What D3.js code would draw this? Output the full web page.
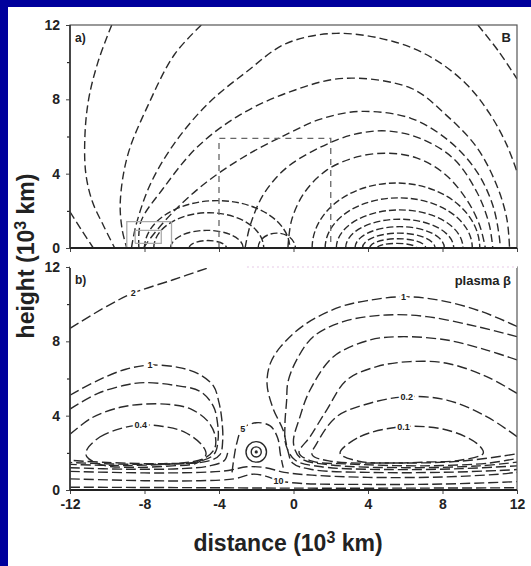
<!DOCTYPE html>
<head>
<meta charset="utf-8">
<script src="https://d3js.org/d3.v7.min.js"></script>
<style>
  body { margin: 0; }
  text { font-family: "Liberation Sans", Arial, sans-serif; font-weight: bold; fill: #222; }
</style>
</head>
<body>
<div id="my_dataviz"></div>
<script>

// ---- axes (10^3 km) ----
var xTicks = [-12, -8, -4, 0, 4, 8, 12];
var yTicks = [0, 4, 8, 12];
var yMinor = [2, 6, 10];

// ---- panel a: magnetic field lines, [distance, height] ----
var fieldL1 = [[-12, 1.95], [-11.4, 1.0], [-10.75, 0]];
var fieldL2 = [[-9.76, 12], [-10.5, 10], [-11.0, 8], [-11.2, 6], [-11.15, 4], [-10.8, 2.5], [-10.2, 1.2], [-9.6, 0]];
var fieldL3 = [[-4.95, 12], [-6.4, 10.4], [-7.8, 7.7], [-8.9, 5.0], [-9.3, 2.5], [-9.2, 1.0], [-8.95, 0]];
var fieldT1 = [[-8.7, 0], [-8.45, 1.25], [-7.7, 3.4], [-6.45, 5.55], [-4.66, 7.7], [-2.5, 9.5], [-0.4, 11.0], [2.3, 11.55], [5.4, 11.1], [7.5, 10.2], [9.3, 8.8], [10.55, 7.2], [11.45, 5.55], [12, 4.1]];
var fieldT2 = [[-8.3, 0], [-8.2, 1.4], [-7.0, 3.2], [-5.2, 5.4], [-2.9, 7.15], [-0.2, 8.4], [2.7, 9.13], [6.3, 8.6], [8.2, 7.15], [9.85, 5.4], [10.9, 3.4], [11.45, 1.6], [11.6, 0]];
var fieldT3 = [[-8.05, 0], [-7.7, 0.5], [-6.45, 1.95], [-4.66, 3.55], [-2.5, 5.0], [-0.2, 6.2], [1.5, 6.95], [3.6, 7.35], [6.3, 6.98], [8.4, 5.72], [9.85, 4.1], [10.7, 2.3], [11.05, 0.6], [11.1, 0]];
var fieldD = [[-2.6, 0], [-2.3, 1.3], [-1.6, 2.9], [-0.4, 4.3], [1.4, 5.4], [3.2, 6.1], [5.0, 6.3], [6.8, 5.9], [8.6, 4.8], [9.85, 3.0], [10.5, 1.3], [10.7, 0]];
var fieldE = [[-0.3, 0], [-0.1, 1.5], [0.6, 3.0], [1.8, 4.2], [3.4, 4.9], [5.0, 5.1], [6.6, 4.85], [8.1, 4.0], [9.3, 2.6], [10.0, 1.2], [10.3, 0]];
var fieldCorner = [[9.9, 12], [11.0, 10.6], [12, 9.1]];
// loops above the right source: [left foot, right foot, top]
var loopsRight = [[1.0, 10.0, 3.5], [1.7, 9.6, 2.7], [2.3, 9.1, 2.05], [2.8, 8.6, 1.55], [3.3, 8.1, 1.15], [3.7, 7.6, 0.8], [4.1, 7.1, 0.5], [4.5, 6.6, 0.25]];
// loops of the small bipole on the left
var loopsLeft = [[-8.0, -0.2, 2.55], [-7.5, -1.6, 1.9], [-6.6, -2.7, 0.95], [-5.6, -3.6, 0.4], [-1.9, 0.1, 0.8]];
var dashedBox = [[-4, 0], [-4, 5.9], [2, 5.9], [2, 0]];
var grayBoxOuter = [[-8.95, 0], [-8.95, 1.42], [-6.55, 1.42], [-6.55, 0]];
var grayBoxInner = [[-8.5, 0.25], [-8.5, 0.95], [-7.1, 0.95], [-7.1, 0.25], [-8.5, 0.25]];

// ---- panel b: plasma beta contours ----
var betaTwo = [[-12, 8.7], [-10, 9.9], [-8.6, 10.6], [-6.5, 11.3], [-4.6, 11.95]];
var betaLeft1 = [[-12, 5.1], [-10.5, 5.9], [-9, 6.5], [-7.7, 6.72], [-6.2, 6.6], [-5.1, 6.25], [-4.3, 5.6], [-4.0, 4.7], [-3.85, 3.8], [-3.8, 2.7], [-3.95, 1.9], [-4.6, 1.55], [-7, 1.42], [-10, 1.48], [-12, 1.6]];
var betaLeft2 = [[-12, 4.35], [-10.5, 5.2], [-9, 5.65], [-8, 5.78], [-6.5, 5.65], [-5.0, 5.3], [-4.3, 4.5], [-4.08, 3.6], [-4.05, 2.7], [-4.25, 1.95], [-5, 1.55], [-8, 1.38], [-12, 1.48]];
var betaLeft3 = [[-12, 3.0], [-10.8, 3.9], [-9.3, 4.45], [-8, 4.62], [-6.6, 4.6], [-5.5, 4.35], [-4.6, 3.7], [-4.2, 2.9], [-4.25, 2.2], [-4.8, 1.7], [-6, 1.45], [-9, 1.32], [-12, 1.38]];
var betaLeft04 = [[-11.1, 2.15], [-10.4, 2.85], [-9.3, 3.3], [-8.2, 3.5], [-7, 3.42], [-5.9, 3.14], [-4.9, 2.4], [-4.7, 1.9], [-5.2, 1.45], [-6.5, 1.3], [-8.5, 1.22], [-10.3, 1.35], [-11.1, 1.8]];
var betaLeftBand = [[-12, 1.2], [-9, 1.12], [-6, 1.15], [-4.5, 1.3], [-3.7, 1.6], [-3.5, 2.2]];
var betaFive = [[-3.3, 0.95], [-3.2, 1.7], [-3.05, 2.5], [-2.75, 3.3], [-2.0, 3.62], [-1.25, 3.45], [-0.85, 2.8], [-0.7, 1.9], [-0.55, 1.2]];
var betaCenter = [-2.0, 2.05];
var betaRings = [0.55, 0.27];
var betaRight1 = [[12, 8.8], [10.1, 9.6], [7.9, 10.2], [5.9, 10.4], [4.0, 10.2], [2.5, 9.85], [0.6, 8.9], [-0.7, 7.7], [-1.25, 6.8], [-1.42, 5.7], [-1.1, 4.4], [-0.55, 3.2], [-0.3, 2.1], [-0.05, 1.45], [1, 1.1], [4, 0.95], [8, 0.95], [11, 1.05], [12, 1.1]];
var betaRight2 = [[12, 8.25], [9.84, 8.8], [7.15, 9.33], [5.0, 9.42], [2.67, 9.06], [1.06, 8.25], [0.17, 7.0], [-0.3, 5.8], [-0.37, 4.8], [-0.46, 3.5], [-0.4, 2.4], [0.1, 1.6], [1.5, 1.25], [5, 1.1], [9, 1.15], [12, 1.3]];
var betaRight3 = [[12, 7.0], [10.37, 7.53], [8.23, 8.07], [5.72, 8.25], [4.1, 8.07], [2.14, 7.17], [0.89, 5.38], [0.35, 3.95], [0, 2.51], [0.4, 1.7], [2, 1.35], [6, 1.2], [10, 1.3], [12, 1.5]];
var betaRight4 = [[12, 5.2], [10.37, 6.1], [8.23, 6.82], [6.26, 6.91], [4.47, 6.64], [2.86, 5.92], [1.78, 4.3], [0.89, 2.87], [0.3, 2.0], [1.0, 1.55], [3, 1.4], [7, 1.3], [10.5, 1.45], [12, 1.7]];
var betaRight02 = [[12, 2.87], [10.37, 3.95], [8.23, 4.84], [6.08, 5.02], [4.1, 4.67], [2.32, 3.95], [1.25, 2.51], [1.0, 1.9], [2.0, 1.55], [5, 1.45], [9, 1.55], [12, 1.95]];
var betaRight01 = [[2.5, 1.98], [3.57, 2.87], [5.9, 3.41], [8.23, 3.23], [9.84, 2.51], [10.19, 1.98], [8.94, 1.6], [7, 1.5], [5.36, 1.45], [3.5, 1.55]];
var betaLow1 = [[-12, 1.0], [-8, 0.92], [-5, 0.95], [-3.5, 1.05], [-2.5, 1.25], [-1.5, 1.2], [-0.5, 0.95], [1, 0.8], [4, 0.68], [8, 0.7], [11, 0.85], [12, 0.95]];
var betaLow10 = [[-12, 0.6], [-8, 0.5], [-5, 0.5], [-3.2, 0.6], [-2.2, 0.85], [-1.5, 0.75], [-0.8, 0.5], [0.5, 0.35], [4, 0.3], [8, 0.32], [12, 0.45]];
var betaLow3 = [[-12, 0.15], [-4, 0.12], [0, 0.1], [6, 0.1], [12, 0.12]];
var betaLabels = [["2", -8.6, 10.62], ["1", -7.7, 6.72], ["0.4", -8.2, 3.5], ["5", -2.72, 3.3], ["10", -0.8, 0.5], ["1", 5.9, 10.4], ["0.2", 6.08, 5.02], ["0.1", 5.9, 3.41]];

// ---- layout ----
var W = 531, H = 566;
var x = d3.scaleLinear().domain([-12, 12]).range([70, 517]);
var yA = d3.scaleLinear().domain([0, 12]).range([248, 25]);
var yB = d3.scaleLinear().domain([0, 12]).range([490, 267]);

var svg = d3.select("#my_dataviz").append("svg")
  .attr("width", W).attr("height", H);

svg.append("rect").attr("width", W).attr("height", H).attr("fill", "#00009c");
svg.append("rect").attr("x", 8).attr("y", 7).attr("width", W - 8).attr("height", H - 7).attr("fill", "#fff");

function panel(id, y) {
  svg.append("clipPath").attr("id", id)
    .append("rect").attr("x", x(-12)).attr("y", y(12))
    .attr("width", x(12) - x(-12)).attr("height", y(0) - y(12));
  return svg.append("g").attr("clip-path", "url(#" + id + ")");
}

function drawLine(g, y, pts, dash, closed) {
  var line = d3.line().x(function(d) { return x(d[0]); }).y(function(d) { return y(d[1]); })
    .curve(closed ? d3.curveCatmullRomClosed.alpha(0.5) : d3.curveCatmullRom.alpha(0.5));
  g.append("path").attr("d", line(pts))
    .attr("fill", "none").attr("stroke", "#2a2a2a").attr("stroke-width", 1.4)
    .attr("stroke-dasharray", dash);
}

function drawLoops(g, y, loops, dash) {
  g.selectAll(null).data(loops).enter().append("path")
    .attr("d", function(d) {
      var rx = (x(d[1]) - x(d[0])) / 2, ry = y(0) - y(d[2]);
      return "M" + x(d[0]) + "," + y(0) + " A" + rx + "," + ry + " 0 0 1 " + x(d[1]) + "," + y(0);
    })
    .attr("fill", "none").attr("stroke", "#2a2a2a").attr("stroke-width", 1.4)
    .attr("stroke-dasharray", dash);
}

function axes(y, labelsX) {
  var gy = svg.append("g").attr("transform", "translate(" + x(-12) + ",0)")
    .call(d3.axisLeft(y).tickValues(yTicks).tickSize(4).tickPadding(6).tickFormat(function(d) { return String(d); }));
  gy.select(".domain").remove();
  gy.selectAll("text").style("font-size", "14px").style("font-family", "Liberation Sans, Arial").style("font-weight", "bold").attr("fill", "#222");
  gy.selectAll("line").attr("stroke", "#444");
  svg.append("g").attr("transform", "translate(" + x(-12) + ",0)")
    .call(d3.axisLeft(y).tickValues(yMinor).tickSize(3).tickFormat(""))
    .select(".domain").remove();

  var gx = svg.append("g").attr("transform", "translate(0," + y(0) + ")")
    .call(d3.axisBottom(x).tickValues(xTicks).tickSize(4).tickPadding(5)
      .tickFormat(labelsX ? function(d) { return String(d); } : ""));
  gx.select(".domain").remove();
  gx.selectAll("text").style("font-size", "14px").style("font-family", "Liberation Sans, Arial").style("font-weight", "bold").attr("fill", "#222");
  gx.selectAll("line").attr("stroke", "#444");

  // frame
  svg.append("rect").attr("x", x(-12)).attr("y", y(12))
    .attr("width", x(12) - x(-12)).attr("height", y(0) - y(12))
    .attr("fill", "none").attr("stroke", "#555").attr("stroke-width", 1.2);
  svg.append("line").attr("x1", x(-12)).attr("x2", x(12)).attr("y1", y(0)).attr("y2", y(0))
    .attr("stroke", "#222").attr("stroke-width", 2.2);
  svg.append("line").attr("x1", x(-12)).attr("x2", x(-12)).attr("y1", y(0)).attr("y2", y(12))
    .attr("stroke", "#333").attr("stroke-width", 1.6);
}

// ---- panel a ----
var gA = panel("clipA", yA);
[fieldL1, fieldL2, fieldL3, fieldT1, fieldT2, fieldT3, fieldD, fieldE, fieldCorner].forEach(function(p) {
  drawLine(gA, yA, p, "8,4", false);
});
drawLoops(gA, yA, loopsRight, "7,3");
drawLoops(gA, yA, loopsLeft, "7,3");
gA.append("path").attr("d", d3.line().x(function(d) { return x(d[0]); }).y(function(d) { return yA(d[1]); })(dashedBox))
  .attr("fill", "none").attr("stroke", "#666").attr("stroke-width", 1.3).attr("stroke-dasharray", "6,5");
[grayBoxOuter, grayBoxInner].forEach(function(b) {
  gA.append("path").attr("d", d3.line().x(function(d) { return x(d[0]); }).y(function(d) { return yA(d[1]); })(b))
    .attr("fill", "none").attr("stroke", "#aaa").attr("stroke-width", 1.3);
});
axes(yA, false);
svg.append("text").attr("x", 75).attr("y", 42).style("font-size", "12px").text("a)");
svg.append("text").attr("x", 511).attr("y", 42).attr("text-anchor", "end").style("font-size", "13px").text("B");

// ---- panel b ----
var gB = panel("clipB", yB);
[betaTwo, betaLeft1, betaLeft2, betaLeft3, betaLeftBand, betaFive,
 betaRight1, betaRight2, betaRight3, betaRight4, betaRight02,
 betaLow1, betaLow10, betaLow3].forEach(function(p) {
  drawLine(gB, yB, p, "10,4", false);
});
[betaLeft04, betaRight01].forEach(function(p) { drawLine(gB, yB, p, "10,4", true); });
gB.selectAll(null).data(betaRings).enter().append("circle")
  .attr("cx", x(betaCenter[0])).attr("cy", yB(betaCenter[1]))
  .attr("r", function(d) { return x(betaCenter[0] + d) - x(betaCenter[0]); })
  .attr("fill", "none").attr("stroke", "#2a2a2a").attr("stroke-width", 1.4);
gB.append("circle").attr("cx", x(betaCenter[0])).attr("cy", yB(betaCenter[1])).attr("r", 1.6).attr("fill", "#2a2a2a");
gB.selectAll(null).data(betaLabels).enter().append("text")
  .attr("x", function(d) { return x(d[1]); }).attr("y", function(d) { return yB(d[2]); })
  .attr("dy", "0.35em").attr("text-anchor", "middle")
  .style("font-size", "9px").style("paint-order", "stroke")
  .attr("stroke", "#fff").attr("stroke-width", 4)
  .text(function(d) { return d[0]; });
axes(yB, true);
// faint top edge of panel b
svg.append("line").attr("x1", x(-12)).attr("x2", x(12)).attr("y1", yB(12)).attr("y2", yB(12))
  .attr("stroke", "#fff").attr("stroke-width", 2);
svg.append("line").attr("x1", x(-2.5)).attr("x2", x(12)).attr("y1", yB(12)).attr("y2", yB(12))
  .attr("stroke", "#e6c8e6").attr("stroke-width", 1).attr("stroke-dasharray", "2,3");
svg.append("text").attr("x", 75).attr("y", 284).style("font-size", "12px").text("b)");
svg.append("text").attr("x", 511).attr("y", 285).attr("text-anchor", "end").style("font-size", "13px").text("plasma β");

// ---- axis titles ----
var yt = svg.append("text").attr("transform", "translate(34,256) rotate(-90)")
  .attr("text-anchor", "middle").style("font-size", "23px");
yt.append("tspan").text("height (10");
yt.append("tspan").attr("dy", -8).style("font-size", "16px").text("3");
yt.append("tspan").attr("dy", 8).text(" km)");

var xt = svg.append("text").attr("x", 288).attr("y", 551)
  .attr("text-anchor", "middle").style("font-size", "23px");
xt.append("tspan").text("distance (10");
xt.append("tspan").attr("dy", -8).style("font-size", "16px").text("3");
xt.append("tspan").attr("dy", 8).text(" km)");

</script>
</body>
